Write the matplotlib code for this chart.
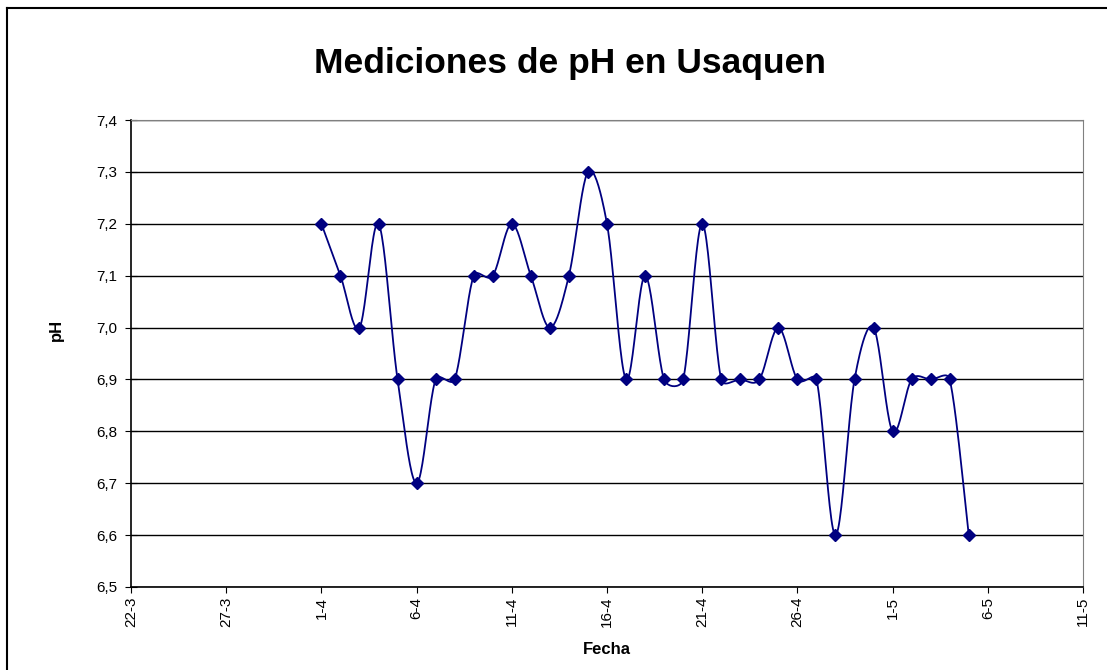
import matplotlib.pyplot as plt
import matplotlib.dates as mdates
from matplotlib.ticker import FuncFormatter, MultipleLocator
import numpy as np
from datetime import datetime

plt.rcParams['font.family'] = ['Liberation Sans', 'DejaVu Sans']

# datos (dia-mes, año 2008)
fechas = ["1-4", "2-4", "3-4", "4-4", "5-4", "6-4", "7-4", "8-4", "9-4", "10-4",
          "11-4", "12-4", "13-4", "14-4", "15-4", "16-4", "17-4", "18-4", "19-4", "20-4",
          "21-4", "22-4", "23-4", "24-4", "25-4", "26-4", "27-4", "28-4", "29-4", "30-4",
          "1-5", "2-5", "3-5", "4-5", "5-5"]
ph = [7.2, 7.1, 7.0, 7.2, 6.9, 6.7, 6.9, 6.9, 7.1, 7.1,
      7.2, 7.1, 7.0, 7.1, 7.3, 7.2, 6.9, 7.1, 6.9, 6.9,
      7.2, 6.9, 6.9, 6.9, 7.0, 6.9, 6.9, 6.6, 6.9, 7.0,
      6.8, 6.9, 6.9, 6.9, 6.6]

def to_num(s):
    d, m = s.split("-")
    return mdates.date2num(datetime(2008, int(m), int(d)))

x = np.array([to_num(f) for f in fechas])
y = np.array(ph)

# curva suavizada estilo Excel: bezier tipo Catmull-Rom (1/6), con el vector
# de control limitado a media longitud del tramo (en pixeles aprox.)
def suavizar(x, y, kx=19.0, ky=520.0, n=24):
    P = np.column_stack([x * kx, y * ky])
    P = np.vstack([P[0], P, P[-1]])
    t = np.linspace(0, 1, n)[:, None]
    out = []
    for i in range(1, len(P) - 2):
        p0, p3 = P[i], P[i + 1]
        d = np.linalg.norm(p3 - p0)
        v0 = (P[i + 1] - P[i - 1]) / 6
        v1 = (P[i + 2] - P[i]) / 6
        for v in (v0, v1):
            L = np.linalg.norm(v)
            if L > d / 2:
                v *= (d / 2) / L
        p1 = p0 + v0
        p2 = p3 - v1
        b = (1 - t) ** 3 * p0 + 3 * (1 - t) ** 2 * t * p1 + 3 * (1 - t) * t ** 2 * p2 + t ** 3 * p3
        out.append(b)
    out = np.vstack(out)
    return out[:, 0] / kx, out[:, 1] / ky

fig = plt.figure(figsize=(11.07, 6.70), dpi=100)
ax = fig.add_axes([131 / 1107, 83 / 670, 952 / 1107, 467 / 670])

sx, sy = suavizar(x, y)
ax.plot(sx, sy, color='#000080', linewidth=1.3, zorder=3)
ax.plot(x, y, linestyle='none', marker='D', markersize=6, color='#000080', zorder=4)

inicio = mdates.date2num(datetime(2008, 3, 22))
fin = mdates.date2num(datetime(2008, 5, 11))
ax.set_xlim(inicio, fin)
ax.set_ylim(6.5, 7.4)
ax.set_xticks(np.arange(inicio, fin + 1, 5))
ax.xaxis.set_major_formatter(FuncFormatter(
    lambda v, p: "%d-%d" % (mdates.num2date(v).day, mdates.num2date(v).month)))
ax.yaxis.set_major_locator(MultipleLocator(0.1))
ax.yaxis.set_major_formatter(FuncFormatter(lambda v, p: ("%.1f" % v).replace(".", ",")))

ax.grid(axis='y', color='black', linewidth=1)
ax.set_axisbelow(True)
for s in ['top', 'right']:
    ax.spines[s].set_color('#808080')
for s in ['left', 'bottom']:
    ax.spines[s].set_color('black')
    ax.spines[s].set_linewidth(1.2)

ax.tick_params(axis='y', direction='inout', length=8, labelsize=11, pad=6)
ax.tick_params(axis='x', direction='out', length=4, labelsize=11, labelrotation=90, pad=3)

fig.text(570 / 1107, 1 - 63 / 670, 'Mediciones de pH en Usaquen', ha='center', va='center',
         fontsize=25.5, fontweight='bold')
fig.text(607 / 1107, 1 - 650 / 670, 'Fecha', ha='center', va='center', fontsize=12, fontweight='bold')
fig.text(56 / 1107, 1 - 330 / 670, 'pH', ha='center', va='center', fontsize=12, fontweight='bold',
         rotation=90)

# marco exterior
fig.add_artist(plt.Line2D([7 / 1107, 7 / 1107], [0, 1 - 8 / 670], color='black', linewidth=1.5,
                          transform=fig.transFigure))
fig.add_artist(plt.Line2D([7 / 1107, 1], [1 - 8 / 670, 1 - 8 / 670], color='black', linewidth=1.5,
                          transform=fig.transFigure))

plt.savefig('out.png')
